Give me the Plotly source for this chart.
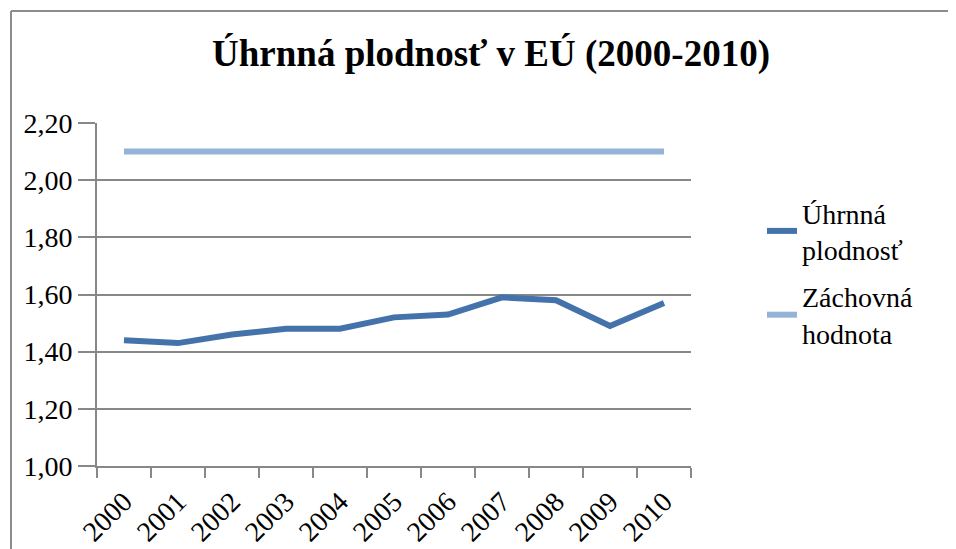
import plotly.graph_objects as go

years = ["2000", "2001", "2002", "2003", "2004", "2005", "2006", "2007", "2008", "2009", "2010"]
fertility = [1.44, 1.43, 1.46, 1.48, 1.48, 1.52, 1.53, 1.59, 1.58, 1.49, 1.57]
replacement = [2.10] * 11
y_ticks = [1.0, 1.2, 1.4, 1.6, 1.8, 2.0, 2.2]

FONT = "Liberation Serif"
OFF = 8  # default page body margin
W, H = 956 - OFF, 549 - OFF
L, R, T, B = 97 - OFF, 956 - 691, 123 - OFF, 549 - 466
pw, ph = W - L - R, H - T - B

fig = go.Figure()
fig.add_trace(go.Scatter(x=years, y=fertility, mode="lines", name="Úhrnná<br>plodnosť",
                         legendgroup="a",
                         line=dict(color="#4472AA", width=6)))
fig.add_trace(go.Scatter(x=years, y=replacement, mode="lines", name="Záchovná<br>hodnota",
                         legendgroup="b",
                         line=dict(color="#95B3D7", width=6)))

def px_x(p):
    return (p - OFF - L) / pw

def px_y(p):
    return (H - B - (p - OFF)) / ph

fig.update_layout(
    width=W, height=H,
    margin=dict(l=L, r=R, t=T, b=B, autoexpand=False),
    paper_bgcolor="white", plot_bgcolor="white",
    separators=", ",
    font=dict(family=FONT, color="black", size=28),
    title=dict(text="<b>Úhrnná plodnosť v EÚ (2000-2010)</b>", x=(491 - OFF) / W, xanchor="center",
               xref="container", yref="container", y=1 - (53 - OFF) / H, yanchor="middle",
               font=dict(family=FONT, size=37, color="black")),
    showlegend=True,
    legend=dict(x=px_x(762), y=px_y(188), xanchor="left", yanchor="top",
                font=dict(family=FONT, size=28, color="black"),
                bgcolor="rgba(0,0,0,0)", tracegroupgap=8, itemwidth=30),
    xaxis=dict(type="category", tickangle=-45, tickson="boundaries",
               ticks="outside", ticklen=10, tickcolor="#888888", tickwidth=2,
               showline=True, linecolor="#888888", linewidth=2,
               ticklabelstandoff=6,
               showgrid=False, tickfont=dict(family=FONT, size=28, color="black"),
               range=[-0.5, 10.5]),
    yaxis=dict(range=[1.0, 2.2], tickvals=y_ticks, tickformat=".2f",
               ticks="outside", ticklen=17, tickcolor="#888888", tickwidth=2,
               showline=True, linecolor="#888888", linewidth=2,
               showgrid=True, gridcolor="#888888", gridwidth=2,
               zeroline=False, tickfont=dict(family=FONT, size=28, color="black")),
    shapes=[
        dict(type="line", xref="paper", yref="paper", x0=px_x(11), x1=px_x(960),
             y0=px_y(11), y1=px_y(11), line=dict(color="#8C8C8C", width=2)),
        dict(type="line", xref="paper", yref="paper", x0=px_x(11), x1=px_x(11),
             y0=px_y(11), y1=px_y(560), line=dict(color="#8C8C8C", width=2)),
    ],
)

fig.write_html("out.html")
